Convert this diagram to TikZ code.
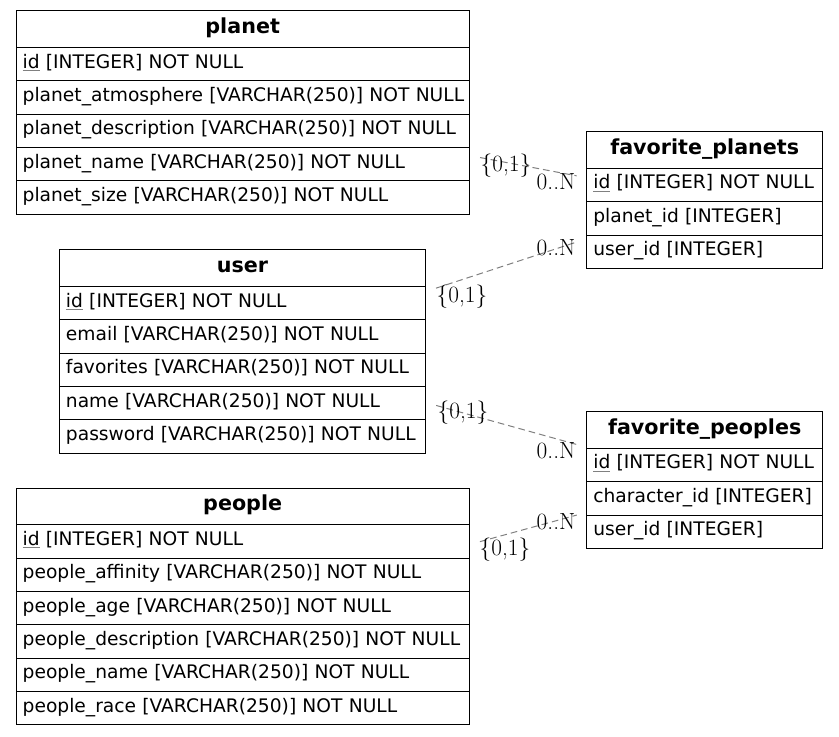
\documentclass[tikz,border=0pt]{standalone}
\usepackage{fontspec}
\setsansfont{DejaVu Sans}
\usetikzlibrary{positioning,fit}
\newcommand{\keyid}[1]{\textcolor{gray}{\underline{\textcolor{black}{#1}}}}

\begin{document}
\begin{tikzpicture}[x=0.75pt,y=-0.75pt,
  head/.style={draw,line width=0.75pt,outer sep=0pt,inner sep=0pt,minimum height=27.5pt,minimum width=#1,
    font=\sffamily\bfseries\fontsize{15.5}{18}\selectfont,text height=11pt,text depth=5pt},
  field/.style={draw,line width=0.75pt,outer sep=0pt,inner xsep=5pt,inner ysep=0pt,minimum height=25pt,
    text width=#1,align=left,font=\sffamily\fontsize{14}{17}\selectfont,text height=10.5pt,text depth=4.8pt},
  rel/.style={gray,line width=0.75pt,dash pattern=on 5pt off 3pt,shorten <=8pt,shorten >=7.5pt},
  card/.style={inner sep=0pt,font=\fontsize{17.5}{20}\selectfont}]
\useasboundingbox (0,0) rectangle (839,737);

% planet
\node [head=340pt,anchor=north west] at (16,11) (planethd) {planet};
\node [field=330pt,below=0pt of planethd] (planet1) {\keyid{id} [INTEGER] NOT NULL};
\node [field=330pt,below=0pt of planet1] (planet2) {\mbox{planet\_atmosphere [VARCHAR(250)] NOT NULL}};
\node [field=330pt,below=0pt of planet2] (planet3) {\mbox{planet\_description [VARCHAR(250)] NOT NULL}};
\node [field=330pt,below=0pt of planet3] (planet4) {planet\_name [VARCHAR(250)] NOT NULL};
\node [field=330pt,below=0pt of planet4] (planet5) {planet\_size [VARCHAR(250)] NOT NULL};
\node [fit=(planethd)(planet5),inner sep=0pt] (planet) {};

% user
\node [head=274.75pt,anchor=north west] at (59.3,250) (userhd) {user};
\node [field=264.75pt,below=0pt of userhd] (user1) {\keyid{id} [INTEGER] NOT NULL};
\node [field=264.75pt,below=0pt of user1] (user2) {email [VARCHAR(250)] NOT NULL};
\node [field=264.75pt,below=0pt of user2] (user3) {favorites [VARCHAR(250)] NOT NULL};
\node [field=264.75pt,below=0pt of user3] (user4) {name [VARCHAR(250)] NOT NULL};
\node [field=264.75pt,below=0pt of user4] (user5) {\mbox{password [VARCHAR(250)] NOT NULL}};
\node [fit=(userhd)(user5),inner sep=0pt] (user) {};

% people
\node [head=340pt,anchor=north west] at (16,488.3) (peoplehd) {people};
\node [field=330pt,below=0pt of peoplehd] (people1) {\keyid{id} [INTEGER] NOT NULL};
\node [field=330pt,below=0pt of people1] (people2) {people\_affinity [VARCHAR(250)] NOT NULL};
\node [field=330pt,below=0pt of people2] (people3) {people\_age [VARCHAR(250)] NOT NULL};
\node [field=330pt,below=0pt of people3] (people4) {\mbox{people\_description [VARCHAR(250)] NOT NULL}};
\node [field=330pt,below=0pt of people4] (people5) {people\_name [VARCHAR(250)] NOT NULL};
\node [field=330pt,below=0pt of people5] (people6) {people\_race [VARCHAR(250)] NOT NULL};
\node [fit=(peoplehd)(people6),inner sep=0pt] (people) {};

% favorite_planets
\node [head=177pt,anchor=north west] at (586.7,131.7) (favplanetshd) {favorite\_planets};
\node [field=167pt,below=0pt of favplanetshd] (favplanets1) {\mbox{\keyid{id} [INTEGER] NOT NULL}};
\node [field=167pt,below=0pt of favplanets1] (favplanets2) {planet\_id [INTEGER]};
\node [field=167pt,below=0pt of favplanets2] (favplanets3) {user\_id [INTEGER]};
\node [fit=(favplanetshd)(favplanets3),inner sep=0pt] (favplanets) {};

% favorite_peoples
\node [head=177pt,anchor=north west] at (586.7,411.7) (favpeopleshd) {favorite\_peoples};
\node [field=167pt,below=0pt of favpeopleshd] (favpeoples1) {\mbox{\keyid{id} [INTEGER] NOT NULL}};
\node [field=167pt,below=0pt of favpeoples1] (favpeoples2) {\mbox{character\_id [INTEGER]}};
\node [field=167pt,below=0pt of favpeoples2] (favpeoples3) {user\_id [INTEGER]};
\node [fit=(favpeopleshd)(favpeoples3),inner sep=0pt] (favpeoples) {};

% relations
\draw [rel] (planet) -- (favplanets);
\draw [rel] (user) -- (favplanets);
\draw [rel] (user) -- (favpeoples);
\draw [rel] (people) -- (favpeoples);

\node [card] at (506,166) (planetone) {\{0,1\}};
\node [card] at (556,182) (planetmany) {0..N};
\node [card] at (462,297) (userplone) {\{0,1\}};
\node [card] at (556,248) (userplmany) {0..N};
\node [card] at (463,413) (userpeone) {\{0,1\}};
\node [card] at (556,451) (userpemany) {0..N};
\node [card] at (505,550) (peopleone) {\{0,1\}};
\node [card] at (556,522) (peoplemany) {0..N};
\end{tikzpicture}
\end{document}
